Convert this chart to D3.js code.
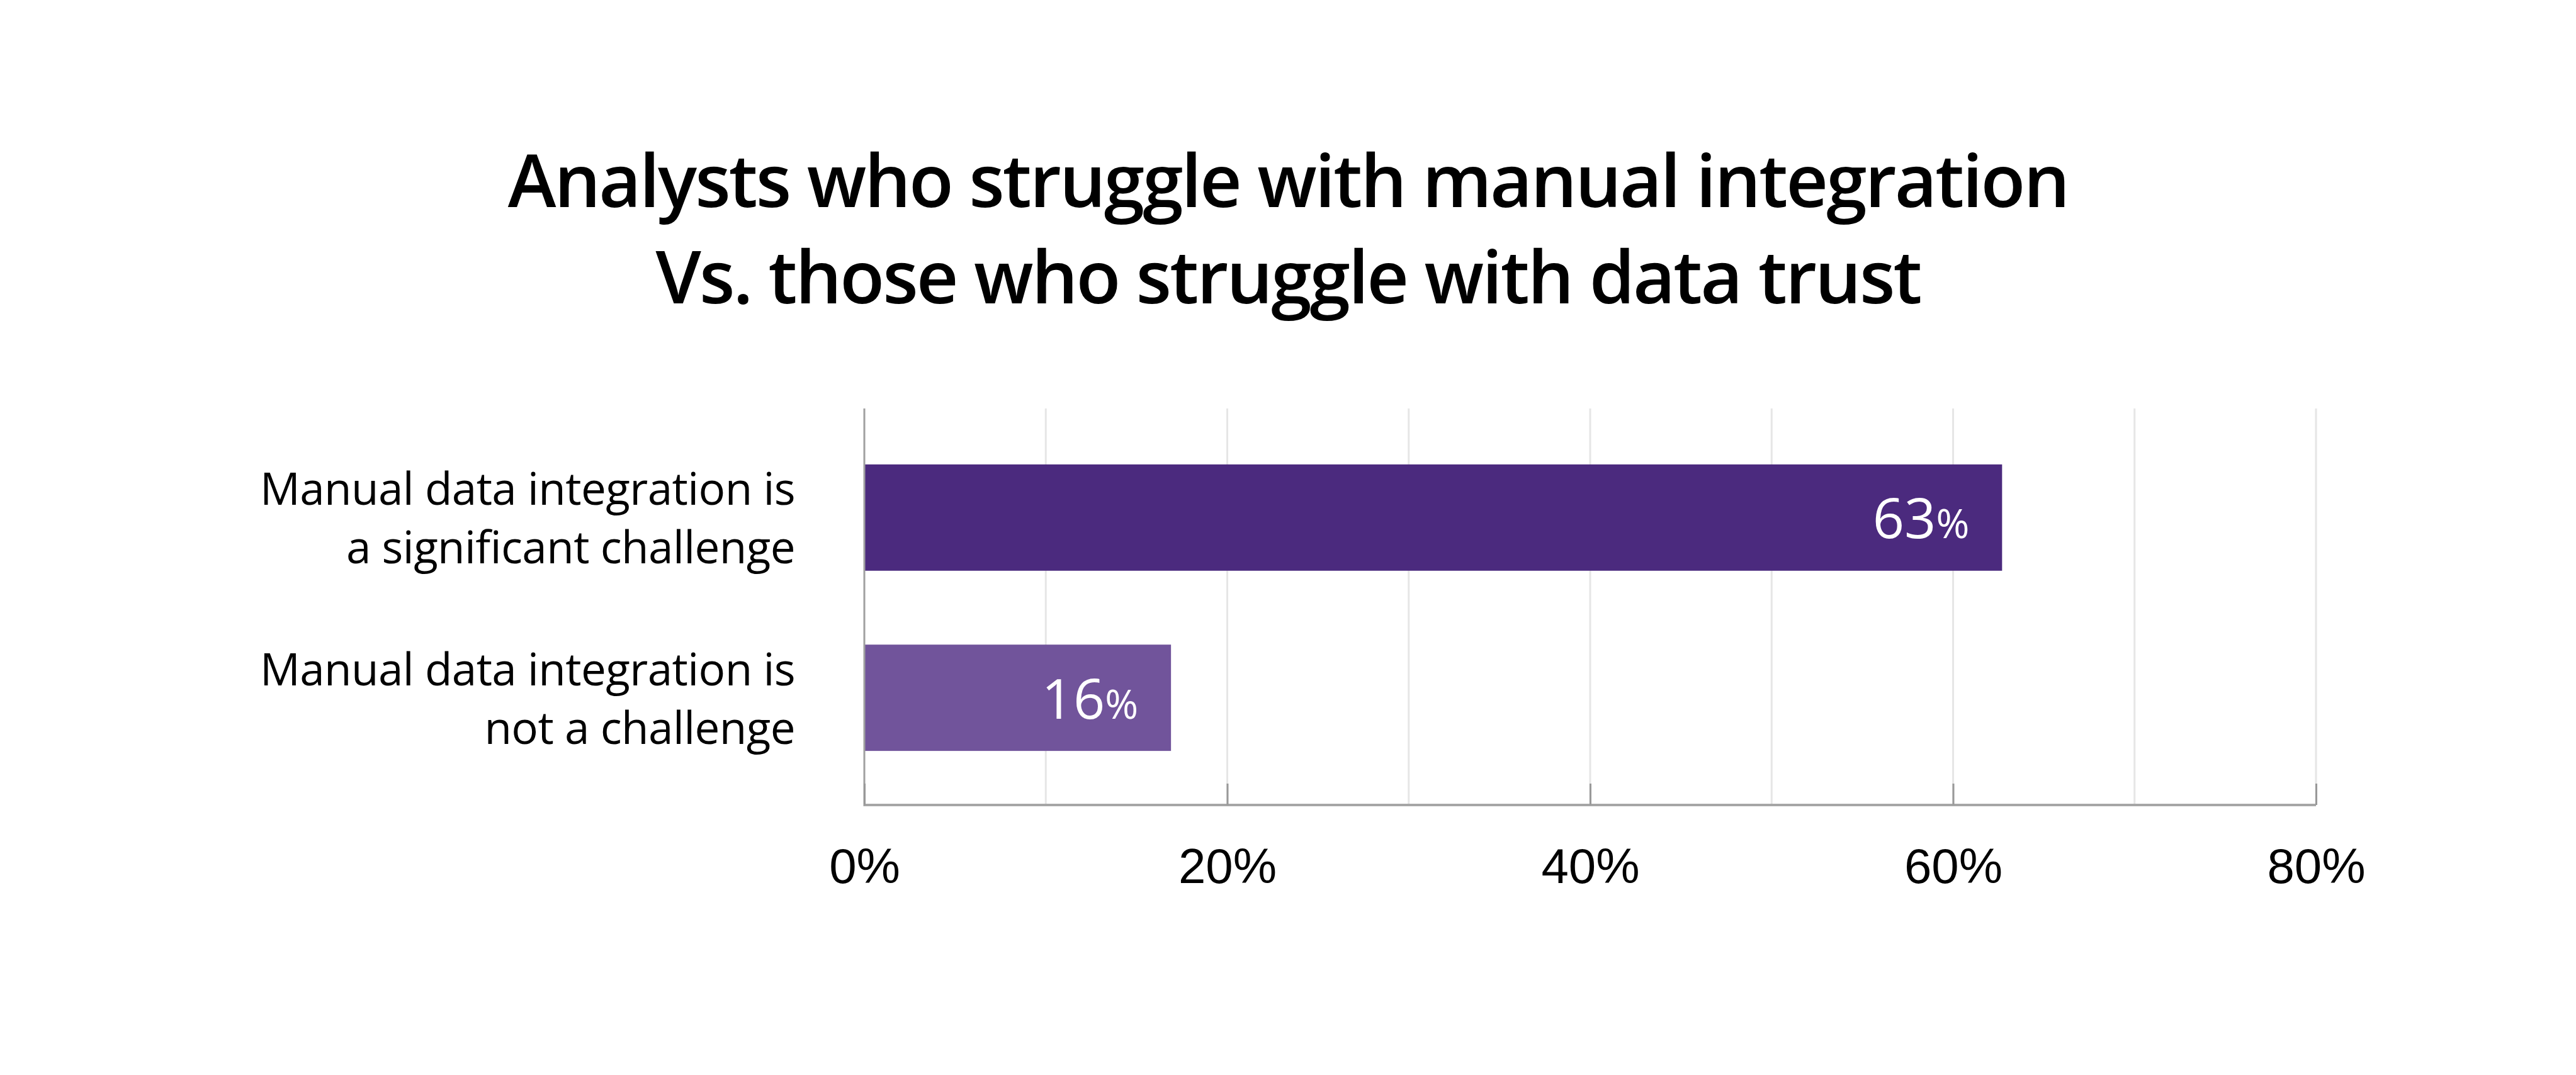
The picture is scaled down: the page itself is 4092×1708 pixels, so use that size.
<!DOCTYPE html>
<html>
<head>
<meta charset="utf-8">
<script src="https://cdn.jsdelivr.net/npm/d3@7"></script>
<style>
  html, body { margin: 0; padding: 0; background: #ffffff; }
  svg { display: block; }
</style>
</head>
<body>
<script>
// ---- data ----
const titleLines = ["Analysts who struggle with manual integration", "Vs. those who struggle with data trust"];
const categories = [
  ["Manual data integration is", "a significant challenge"],
  ["Manual data integration is", "not a challenge"]
];
const values = [62.7, 16.9];
const valueLabels = ["63", "16"];
const barColors = ["#4b2a7e", "#71549b"];
const xTicks = [0, 20, 40, 60, 80];
const xGrid = [0, 10, 20, 30, 40, 50, 60, 70, 80];

// ---- layout ----
const W = 4092, H = 1708;
const plotLeft = 1373, plotRight = 3679, plotTop = 649, plotBottom = 1279;

const svg = d3.select("body").append("svg").attr("width", W).attr("height", H);
svg.append("rect").attr("width", W).attr("height", H).attr("fill", "#fff");

const x = d3.scaleLinear().domain([0, 80]).range([plotLeft, plotRight]);
const y = d3.scaleBand().domain(d3.range(categories.length))
  .range([plotTop + 3, plotBottom]).paddingInner(0.41).paddingOuter(0.3);

// title
svg.append("g").selectAll("text").data(titleLines).join("text")
  .attr("x", 2046).attr("y", (d, i) => 329 + i * 153)
  .attr("text-anchor", "middle")
  .attr("font-family", "'Open Sans', sans-serif")
  .attr("font-weight", 600).attr("font-size", 116)
  .attr("letter-spacing", -2.9).attr("fill", "#000")
  .text(d => d);

// gridlines
svg.append("g").selectAll("line").data(xGrid.slice(1)).join("line")
  .attr("x1", d => x(d)).attr("x2", d => x(d))
  .attr("y1", plotTop).attr("y2", plotBottom)
  .attr("stroke", "#e6e6e6").attr("stroke-width", 3);

// bars
svg.append("g").selectAll("rect").data(values).join("rect")
  .attr("x", x(0)).attr("y", (d, i) => y(i))
  .attr("width", d => x(d) - x(0)).attr("height", y.bandwidth())
  .attr("fill", (d, i) => barColors[i]);

// value labels
const vl = svg.append("g").selectAll("text").data(values).join("text")
  .attr("x", d => x(d) - 52)
  .attr("y", (d, i) => y(i) + y.bandwidth() / 2 + 33)
  .attr("text-anchor", "end")
  .attr("font-family", "'Open Sans', sans-serif")
  .attr("fill", "#fff");
vl.append("tspan").attr("font-size", 88).text((d, i) => valueLabels[i]);
vl.append("tspan").attr("font-size", 64).text("%");

// left axis line
svg.append("line")
  .attr("x1", x(0)).attr("x2", x(0)).attr("y1", plotTop).attr("y2", plotBottom + 2)
  .attr("stroke", "#a0a0a0").attr("stroke-width", 3);

// bottom axis
const xAxis = d3.axisBottom(x).tickValues(xTicks).tickSize(0).tickFormat(d => d + "%");
const gx = svg.append("g").attr("transform", `translate(0,${plotBottom})`).call(xAxis);
gx.select(".domain").attr("stroke", "#a6a6a6").attr("stroke-width", 4)
  .attr("d", `M${x(0)},0H${x(80)}`);
gx.selectAll(".tick").append("line")
  .attr("y1", 0).attr("y2", -34).attr("stroke", "#999").attr("stroke-width", 3);
gx.selectAll(".tick text")
  .attr("y", 124).attr("dy", 0)
  .attr("font-family", "'Liberation Sans', Arial, sans-serif")
  .attr("font-size", 78).attr("fill", "#000");

// category labels
svg.append("g").selectAll("text").data(categories).join("text")
  .attr("text-anchor", "end")
  .attr("font-family", "'Open Sans', sans-serif")
  .attr("font-size", 71).attr("letter-spacing", -0.6).attr("fill", "#000")
  .each(function(d, i) {
    const t = d3.select(this);
    const cy = y(i) + y.bandwidth() / 2;
    d.forEach((line, j) => {
      t.append("tspan").attr("x", 1263).attr("y", cy - 20 + j * 93).text(line);
    });
  });
</script>
</body>
</html>
